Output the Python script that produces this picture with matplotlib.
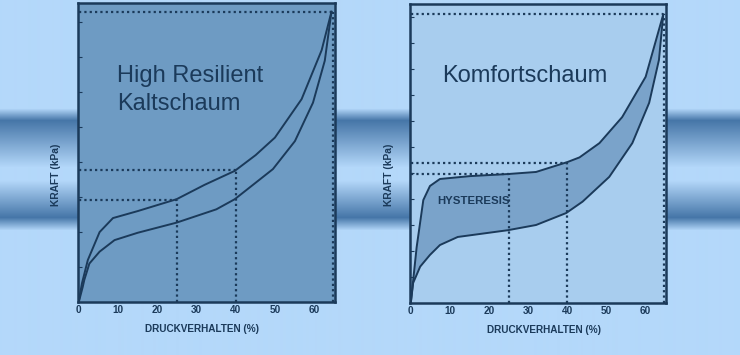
import numpy as np
import matplotlib
matplotlib.use('Agg')
import matplotlib.pyplot as plt

plt.rcParams['font.family'] = ['Liberation Sans', 'DejaVu Sans']

# --- data (kPa in arbitrary scale units) ---
hr_load_x = [0, 0.2, 0.8, 2.3, 5.3, 8.7, 15, 24.9, 32, 39.7, 45, 49.9, 56.7, 61.8, 64.3]
hr_load_y = [0, 0.15, 0.53, 1.2, 2.0, 2.4, 2.6, 2.94, 3.35, 3.75, 4.2, 4.7, 5.8, 7.2, 8.3]
hr_unload_x = [0, 1.0, 1.4, 2.7, 5.3, 9.1, 15, 24.9, 35, 39.7, 49.4, 55, 59.6, 62.6, 64.3]
hr_unload_y = [0, 0.43, 0.63, 1.1, 1.44, 1.77, 1.98, 2.27, 2.65, 2.94, 3.8, 4.6, 5.7, 6.9, 8.3]

kf_load_x = [0, 1.5, 3.2, 4.9, 7.45, 15.1, 24.8, 32, 40, 43.1, 48.2, 54, 60, 64.5]
kf_load_y = [0, 2.15, 3.96, 4.5, 4.77, 4.88, 4.96, 5.04, 5.42, 5.6, 6.15, 7.15, 8.7, 11.1]
kf_unload_x = [0, 0.6, 2.4, 4.9, 7.45, 12, 24.8, 32, 39.7, 43.9, 50.7, 56.6, 60.9, 63.4, 64.5]
kf_unload_y = [0, 0.77, 1.4, 1.85, 2.23, 2.54, 2.8, 3.0, 3.46, 3.9, 4.85, 6.15, 7.7, 9.35, 11.1]

# reference points (compression %, force)
hr_marks_x = [25, 40]
hr_marks_y = [2.91, 3.77]
hr_top = 8.29
kf_marks_x = [25, 40]
kf_marks_y = [4.96, 5.38]
kf_top = 11.1

x_ticks = [0, 10, 20, 30, 40, 50, 60]

INK = '#1b3a5a'
BG = '#b4d8fa'
DARK = '#4676a8'
DOT = (0, (1, 1.4))

fig = plt.figure(figsize=(7.4, 3.55), dpi=100)
fig.patch.set_facecolor(BG)

# background band with gradient
bg = fig.add_axes([0, 0, 1, 1])
bg.set_axis_off()
rows = np.arange(355)
stops = [0, 108, 120, 167, 180, 217, 230, 355]
cols = np.array([matplotlib.colors.to_rgb(c) for c in [BG, BG, DARK, BG, BG, DARK, BG, BG]])
grad = np.stack([np.interp(rows, stops, cols[:, i]) for i in range(3)], axis=1)
bg.imshow(grad[:, None, :], aspect='auto', extent=[0, 1, 1, 0], interpolation='bilinear')
bg.set_xlim(0, 1)
bg.set_ylim(1, 0)


def panel(rect, face, ymax, load_x, load_y, unload_x, unload_y, marks_x, marks_y, top,
          xlab_pos, ylab_pos, fill=None):
    ax = fig.add_axes(rect)
    ax.set_facecolor(face)
    if fill:
        ax.fill(list(load_x) + list(unload_x[::-1]), list(load_y) + list(unload_y[::-1]),
                color=fill, lw=0)
    ax.plot(load_x, load_y, color=INK, lw=1.4)
    ax.plot(unload_x, unload_y, color=INK, lw=1.4)
    for mx, my in zip(marks_x, marks_y):
        ax.plot([0, mx], [my, my], color=INK, lw=1.6, ls=DOT)
        ax.plot([mx, mx], [0, my], color=INK, lw=1.6, ls=DOT)
    ax.plot([0, load_x[-1]], [top, top], color=INK, lw=1.6, ls=DOT)
    ax.plot([64.7, 64.7], [0, top], color=INK, lw=1.6, ls=DOT)
    ax.set_xlim(-0.2, 65.2)
    ax.set_ylim(0, ymax)
    ax.set_xticks(x_ticks)
    ax.set_yticks(range(1, int(ymax) + 1))
    ax.set_yticklabels([])
    ax.tick_params(axis='x', length=0, pad=2, labelsize=7.2, labelcolor=INK)
    ax.tick_params(axis='y', direction='in', length=3, color=INK)
    for lab in ax.get_xticklabels():
        lab.set_fontweight('bold')
    for s in ax.spines.values():
        s.set_color(INK)
        s.set_linewidth(1.8)
    ax.set_xlabel('DRUCKVERHALTEN (%)', fontsize=7.2, fontweight='bold', color=INK)
    ax.set_ylabel('KRAFT (kPa)', fontsize=7.4, fontweight='bold', color=INK)
    ax.xaxis.set_label_coords(*xlab_pos)
    ax.yaxis.set_label_coords(*ylab_pos)
    return ax


ax1 = panel([78 / 740, 1 - 302 / 355, 257 / 740, 299 / 355], '#6e9bc3', 8.55,
            hr_load_x, hr_load_y, hr_unload_x, hr_unload_y, hr_marks_x, hr_marks_y, hr_top,
            (0.482, -0.072), (-0.066, 0.425))
ax1.text(9.7, 6.29, 'High Resilient', fontsize=17, color=INK, va='baseline')
ax1.text(9.7, 5.49, 'Kaltschaum', fontsize=17, color=INK, va='baseline')

ax2 = panel([410 / 740, 1 - 303 / 355, 256 / 740, 299 / 355], '#a8cdee', 11.5,
            kf_load_x, kf_load_y, kf_unload_x, kf_unload_y, kf_marks_x, kf_marks_y, kf_top,
            (0.523, -0.072), (-0.0625, 0.428), fill='#7aa3ca')
ax2.text(8.0, 8.5, 'Komfortschaum', fontsize=17, color=INK, va='baseline')
ax2.text(6.7, 3.92, 'HYSTERESIS', fontsize=8.2, fontweight='bold', color=INK, va='center')

fig.savefig('out.png', dpi=100, facecolor=BG)
